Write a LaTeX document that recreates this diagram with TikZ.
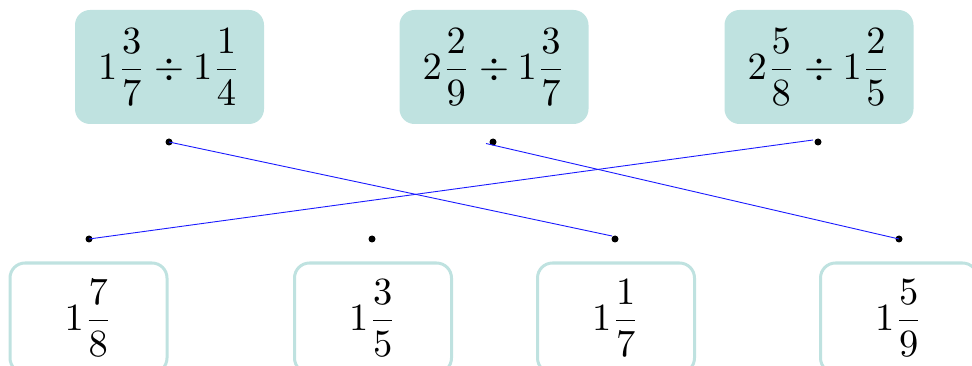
\documentclass[tikz,border=0pt]{standalone}
\usepackage{amsmath}
\usepackage{graphicx}
\definecolor{tealfill}{HTML}{BFE2E0}
\definecolor{linkblue}{HTML}{1A1AFF}
\newcommand{\bigmath}[1]{\scalebox{3.85}{$\displaystyle #1$}}
\begin{document}
\begin{tikzpicture}[x=1pt,y=-1pt,
  topbox/.style={fill=tealfill,draw=none,rounded corners=15pt,minimum width=189pt,minimum height=114pt,inner sep=0pt},
  botbox/.style={draw=tealfill,line width=3pt,rounded corners=15pt,minimum width=157pt,minimum height=110pt,inner sep=0pt},
  dotmark/.style={circle,fill=black,inner sep=0pt,minimum size=7pt},
  link/.style={draw=linkblue,line width=0.9pt}]
\useasboundingbox (0,0) rectangle (972,366);
\clip (0,0) rectangle (972,366);
\node[topbox] (t1) at (169.5,67) {\bigmath{1\frac{3}{7}\div1\frac{1}{4}}};
\node[topbox] (t2) at (494,67) {\bigmath{2\frac{2}{9}\div1\frac{3}{7}}};
\node[topbox] (t3) at (819,67) {\bigmath{2\frac{5}{8}\div1\frac{2}{5}}};
\node[botbox] (b1) at (88.5,318) {\bigmath{1\frac{7}{8}}};
\node[botbox] (b2) at (373,318) {\bigmath{1\frac{3}{5}}};
\node[botbox] (b3) at (616,318) {\bigmath{1\frac{1}{7}}};
\node[botbox] (b4) at (899,318) {\bigmath{1\frac{5}{9}}};
\node[dotmark] (dt1) at (169,142) {};
\node[dotmark] (dt2) at (493,142) {};
\node[dotmark] (dt3) at (818,142) {};
\node[dotmark] (db1) at (89,239) {};
\node[dotmark] (db2) at (372,239) {};
\node[dotmark] (db3) at (615,239) {};
\node[dotmark] (db4) at (899,239) {};
\coordinate (s2) at (486,143.5);
\coordinate (s3) at (813,140);
\coordinate (e1) at (612,236);
\draw[link] (dt1.center) -- (e1);
\draw[link] (s2) -- (db4.center);
\draw[link] (s3) -- (db1.center);
\end{tikzpicture}
\end{document}
